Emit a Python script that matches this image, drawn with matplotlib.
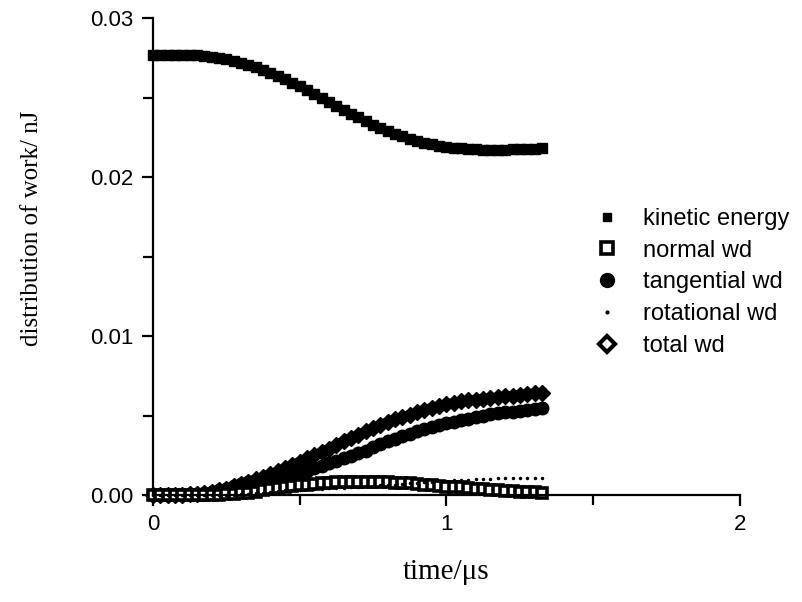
import matplotlib
matplotlib.use("Agg")
import matplotlib.pyplot as plt
from matplotlib.ticker import MultipleLocator, FixedLocator, FormatStrFormatter

time_us = [0.000, 0.025, 0.050, 0.075, 0.100, 0.125, 0.150, 0.175, 0.200, 0.225,
           0.250, 0.275, 0.300, 0.325, 0.350, 0.375, 0.400, 0.425, 0.450, 0.475,
           0.500, 0.525, 0.550, 0.575, 0.600, 0.625, 0.650, 0.675, 0.700, 0.725,
           0.750, 0.775, 0.800, 0.825, 0.850, 0.875, 0.900, 0.925, 0.950, 0.975,
           1.000, 1.025, 1.050, 1.075, 1.100, 1.125, 1.150, 1.175, 1.200, 1.225,
           1.250, 1.275, 1.300, 1.325]

kinetic_energy = [0.02767, 0.02767, 0.02767, 0.02767, 0.02767, 0.02766, 0.02765, 0.02761, 0.02756, 0.02749,
                  0.02740, 0.02730, 0.02718, 0.02705, 0.02690, 0.02673, 0.02655, 0.02636, 0.02615, 0.02593,
                  0.02570, 0.02546, 0.02522, 0.02497, 0.02472, 0.02447, 0.02422, 0.02398, 0.02375, 0.02352,
                  0.02330, 0.02310, 0.02290, 0.02272, 0.02256, 0.02241, 0.02228, 0.02216, 0.02205, 0.02197,
                  0.02190, 0.02185, 0.02180, 0.02177, 0.02174, 0.02172, 0.02171, 0.02171, 0.02172, 0.02173,
                  0.02175, 0.02177, 0.02178, 0.02180]

normal_wd = [0.00000, 0.00000, 0.00000, 0.00000, 0.00000, 0.00000, 0.00000, 0.00000, 0.00000, 0.00002,
             0.00004, 0.00007, 0.00010, 0.00015, 0.00020, 0.00030, 0.00040, 0.00045, 0.00050, 0.00055,
             0.00060, 0.00065, 0.00070, 0.00075, 0.00078, 0.00080, 0.00080, 0.00080, 0.00080, 0.00080,
             0.00080, 0.00080, 0.00079, 0.00078, 0.00076, 0.00073, 0.00070, 0.00065, 0.00060, 0.00055,
             0.00050, 0.00050, 0.00048, 0.00045, 0.00040, 0.00035, 0.00030, 0.00030, 0.00028, 0.00025,
             0.00022, 0.00020, 0.00018, 0.00015]

tangential_wd = [0.00000, 0.00001, 0.00001, 0.00002, 0.00003, 0.00005, 0.00008, 0.00013, 0.00020, 0.00030,
                 0.00040, 0.00055, 0.00070, 0.00080, 0.00090, 0.00098, 0.00105, 0.00112, 0.00120, 0.00128,
                 0.00138, 0.00153, 0.00170, 0.00185, 0.00200, 0.00215, 0.00230, 0.00245, 0.00262, 0.00280,
                 0.00300, 0.00320, 0.00340, 0.00355, 0.00370, 0.00385, 0.00400, 0.00415, 0.00430, 0.00440,
                 0.00450, 0.00460, 0.00470, 0.00480, 0.00490, 0.00500, 0.00510, 0.00515, 0.00520, 0.00525,
                 0.00530, 0.00535, 0.00540, 0.00548]

rotational_wd = [0.00000, 0.00000, 0.00000, 0.00000, 0.00000, 0.00000, 0.00000, 0.00000, 0.00000, 0.00000,
                 0.00000, 0.00003, 0.00005, 0.00008, 0.00010, 0.00015, 0.00020, 0.00025, 0.00030, 0.00030,
                 0.00032, 0.00035, 0.00037, 0.00040, 0.00042, 0.00045, 0.00047, 0.00050, 0.00052, 0.00055,
                 0.00057, 0.00060, 0.00062, 0.00066, 0.00070, 0.00074, 0.00078, 0.00081, 0.00084, 0.00087,
                 0.00090, 0.00093, 0.00095, 0.00097, 0.00100, 0.00102, 0.00103, 0.00104, 0.00105, 0.00106,
                 0.00107, 0.00108, 0.00109, 0.00110]

total_wd = [0.00000, 0.00001, 0.00001, 0.00002, 0.00003, 0.00005, 0.00008, 0.00013, 0.00020, 0.00030,
            0.00040, 0.00055, 0.00070, 0.00085, 0.00100, 0.00115, 0.00130, 0.00150, 0.00170, 0.00190,
            0.00210, 0.00230, 0.00250, 0.00270, 0.00290, 0.00315, 0.00340, 0.00360, 0.00380, 0.00400,
            0.00420, 0.00440, 0.00460, 0.00475, 0.00490, 0.00505, 0.00520, 0.00535, 0.00550, 0.00560,
            0.00570, 0.00580, 0.00590, 0.00595, 0.00600, 0.00605, 0.00610, 0.00615, 0.00620, 0.00625,
            0.00630, 0.00635, 0.00640, 0.00642]

series_labels = ["kinetic energy", "normal wd", "tangential wd", "rotational wd", "total wd"]

plt.rcParams["font.family"] = ["Liberation Sans", "DejaVu Sans"]

fig = plt.figure(figsize=(8.03, 6.02), dpi=100)
ax = fig.add_axes([0.1905, 0.1777, 0.731, 0.7924])

k = dict(color="black", clip_on=False)
l_ke, = ax.plot(time_us, kinetic_energy, marker="s", markersize=7, linewidth=5.5, label=series_labels[0], **k)
l_tot, = ax.plot(time_us, total_wd, marker="D", markersize=8.5, linewidth=7, label=series_labels[4], **k)
l_tan, = ax.plot(time_us, tangential_wd, marker="o", markersize=9, linewidth=7, label=series_labels[2], **k)
l_nor, = ax.plot(time_us, normal_wd, marker="s", markersize=7.5, markerfacecolor="white", linestyle="none",
                 markeredgewidth=2.6, markeredgecolor="black", label=series_labels[1], **k)
l_rot, = ax.plot(time_us, rotational_wd, marker=".", markersize=3, linestyle="none", label=series_labels[3], **k)

ax.set_xlim(0, 2)
ax.set_ylim(0, 0.03)
for s in ["top", "right"]:
    ax.spines[s].set_visible(False)
for s in ["left", "bottom"]:
    ax.spines[s].set_linewidth(1.6)

ax.xaxis.set_major_locator(FixedLocator([0, 1, 2]))
ax.xaxis.set_minor_locator(FixedLocator([0.5, 1.5]))
ax.xaxis.set_major_formatter(FormatStrFormatter("%d"))
ax.yaxis.set_major_locator(MultipleLocator(0.01))
ax.yaxis.set_minor_locator(MultipleLocator(0.005))
ax.yaxis.set_major_formatter(FormatStrFormatter("%.2f"))
ax.tick_params(axis="both", which="major", direction="out", length=8, width=1.6,
               labelsize=16, pad=6)
ax.tick_params(axis="both", which="minor", direction="out", length=7, width=1.6)

ax.set_xlabel("time/\u03bcs", family="Liberation Serif", fontsize=21, labelpad=17)
ax.set_ylabel("distribution of work/ nJ", family="Liberation Serif", fontsize=18)
ax.yaxis.set_label_coords(-0.188, 0.56)

handles = [l_ke, l_nor, l_tan, l_rot, l_tot]
leg = ax.legend(handles, series_labels, loc="upper left", bbox_to_anchor=(0.715, 0.69),
                bbox_transform=fig.transFigure, frameon=False, handlelength=1.0,
                handletextpad=1.0, labelspacing=0.415,
                prop={"family": "Liberation Sans", "size": 17})
lh = leg.legend_handles
for h in lh:
    h.set_linestyle("none")
lh[0].set_markersize(6)
lh[1].set_markersize(8)
lh[2].set_markersize(10)
lh[3].set_markersize(4)
lh[4].set_markersize(8)
lh[4].set_markerfacecolor("white")
lh[4].set_markeredgewidth(3)

fig.savefig("out.png", dpi=100)
